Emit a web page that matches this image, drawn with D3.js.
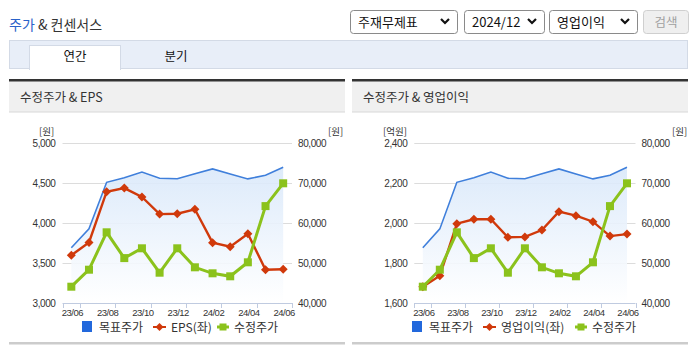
<!DOCTYPE html>
<html><head><meta charset="utf-8">
<script src="https://cdn.jsdelivr.net/npm/d3@7"></script>
<style>
body{margin:0;background:#fff;}
svg{display:block;font-family:"Noto Sans CJK KR","Noto Sans",sans-serif;}
.tick text{font-family:"Liberation Sans",Arial,sans-serif;font-size:10px;fill:#333;letter-spacing:-0.4px;}
</style></head><body>
<svg id="c" width="695" height="349"></svg>
<script>
const months = ["23/06","23/07","23/08","23/09","23/10","23/11","23/12","24/01","24/02","24/03","24/04","24/05","24/06"];
const targetPrice = [53900,58600,70250,71400,72800,71250,71150,72400,73600,72300,71100,72000,74000];
const adjPrice = [44150,48400,57750,51300,53750,47650,53750,49000,47500,46750,50250,64300,70000];
const eps = [3600,3760,4395,4440,4330,4115,4120,4175,3758,3708,3870,3420,3425];
const opIncome = [1683,1738,1998,2020,2020,1930,1932,1966,2058,2038,2008,1936,1946];
const epsTicks = [3000,3500,4000,4500,5000];
const opTicks = [1600,1800,2000,2200,2400];
const priceTicks = [40000,50000,60000,70000,80000];
const selects = ["주재무제표","2024/12","영업이익"];
const tabs = ["연간","분기"];

const BLUE="#3f7fdb", RED="#d0390b", GREEN="#8bc21c";
const svg = d3.select("#c");

const defs = svg.append("defs");
const gr = defs.append("linearGradient").attr("id","ag").attr("x1",0).attr("y1",0).attr("x2",0).attr("y2",1);
gr.append("stop").attr("offset","0%").attr("stop-color","#d9e8fa").attr("stop-opacity",0.9);
gr.append("stop").attr("offset","100%").attr("stop-color","#ffffff").attr("stop-opacity",0.9);

const t = svg.append("text").attr("x",9).attr("y",30).attr("font-size",14);
t.append("tspan").attr("fill","#2a62c9").text("주가");
t.append("tspan").attr("fill","#333").text(" & 컨센서스");

const selBoxes = [[350,107],[464,80],[549,88]];
selects.forEach((s,i)=>{
  const [x,w]=selBoxes[i];
  svg.append("rect").attr("x",x+0.5).attr("y",10.5).attr("width",w).attr("height",23).attr("rx",3)
    .attr("fill","#fff").attr("stroke","#8a8a8a");
  svg.append("text").attr("x",x+8).attr("y",27).attr("font-size",13).attr("fill","#111").text(s);
  const cx=x+w-12;
  svg.append("path").attr("d",`M${cx-4},${19}L${cx},${23}L${cx+4},${19}`).attr("fill","none")
    .attr("stroke","#111").attr("stroke-width",2.2);
});
svg.append("rect").attr("x",643.5).attr("y",10.5).attr("width",45).attr("height",23).attr("rx",3)
  .attr("fill","#efefef").attr("stroke","#cfcfcf");
svg.append("text").attr("x",666).attr("y",27).attr("text-anchor","middle").attr("font-size",12.5).attr("fill","#a0a0a0").text("검색");

svg.append("rect").attr("x",9.5).attr("y",40.5).attr("width",678).attr("height",28).attr("fill","#e8eef8").attr("stroke","#d3dae6");
svg.append("rect").attr("x",29.5).attr("y",45.5).attr("width",91).attr("height",24).attr("fill","#fff").attr("stroke","#d3dae6");
svg.append("rect").attr("x",30).attr("y",68).attr("width",90).attr("height",2).attr("fill","#fff");
svg.append("text").attr("x",75).attr("y",61).attr("text-anchor","middle").attr("font-size",12.5).attr("fill","#111").text(tabs[0]);
svg.append("text").attr("x",176).attr("y",61).attr("text-anchor","middle").attr("font-size",12.5).attr("fill","#111").text(tabs[1]);

function panel(px, pw, title){
  svg.append("rect").attr("x",px).attr("y",81).attr("width",pw).attr("height",31).attr("fill","#f0f0f0");
  svg.append("rect").attr("x",px).attr("y",79).attr("width",pw).attr("height",2.5).attr("fill","#333");
  svg.append("rect").attr("x",px).attr("y",111.5).attr("width",pw).attr("height",1).attr("fill","#d8d8d8");
  svg.append("text").attr("x",px+11).attr("y",102).attr("font-size",12.5).attr("fill","#333").text(title);
  svg.append("rect").attr("x",px).attr("y",342).attr("width",pw).attr("height",2.5).attr("fill","#cccccc");
}
panel(9,336,"수정주가 & EPS");
panel(352,336,"수정주가 & 영업이익");

function chart(cfg){
  const g = svg.append("g");
  const x = d3.scaleBand().domain(months).range([cfg.x0,cfg.x1]).padding(0);
  const yL = d3.scaleLinear().domain([cfg.lt[0],cfg.lt[cfg.lt.length-1]]).range([303.3,143.3]);
  const yR = d3.scaleLinear().domain([40000,80000]).range([303.3,143.3]);
  const cx = d=>x(d)+x.bandwidth()/2;
  g.selectAll(".gl").data(cfg.lt.slice(1)).join("line")
    .attr("x1",cfg.x0).attr("x2",cfg.x1).attr("y1",d=>Math.round(yL(d))+0.5).attr("y2",d=>Math.round(yL(d))+0.5)
    .attr("stroke","#dcdcdc").attr("stroke-width",1);
  const area = d3.area().x((d,i)=>cx(months[i])).y0(303).y1(d=>yR(d));
  g.append("path").datum(targetPrice).attr("d",area).attr("fill","url(#ag)");
  g.append("path").datum(targetPrice).attr("d",d3.line().x((d,i)=>cx(months[i])).y(d=>yR(d)))
    .attr("fill","none").attr("stroke",BLUE).attr("stroke-width",1.6);
  const ld = cfg.left;
  g.append("path").datum(ld).attr("d",d3.line().x((d,i)=>cx(months[i])).y(d=>yL(d)))
    .attr("fill","none").attr("stroke",RED).attr("stroke-width",2.4);
  g.selectAll(".dm").data(ld).join("path")
    .attr("d",(d,i)=>{const X=cx(months[i]),Y=yL(d);return `M${X},${Y-4.5}L${X+4.5},${Y}L${X},${Y+4.5}L${X-4.5},${Y}Z`;})
    .attr("fill",RED);
  g.append("path").datum(adjPrice).attr("d",d3.line().x((d,i)=>cx(months[i])).y(d=>yR(d)))
    .attr("fill","none").attr("stroke",GREEN).attr("stroke-width",3);
  g.selectAll(".sq").data(adjPrice).join("rect")
    .attr("x",(d,i)=>cx(months[i])-4).attr("y",d=>yR(d)-4).attr("width",8).attr("height",8).attr("fill",GREEN);
  const ax = g.append("g").attr("transform",`translate(${cfg.x0-3},0)`)
    .call(d3.axisLeft(yL).tickValues(cfg.lt).tickFormat(d3.format(",")).tickSize(0).tickPadding(4));
  ax.select(".domain").remove();
  const ar = g.append("g").attr("transform",`translate(${cfg.x1+2},0)`)
    .call(d3.axisRight(yR).tickValues(priceTicks).tickFormat(d3.format(",")).tickSize(0).tickPadding(4));
  ar.select(".domain").remove();
  g.append("line").attr("x1",cfg.x0).attr("x2",cfg.x1).attr("y1",303.5).attr("y2",303.5).attr("stroke","#c0cbe0");
  const bw = x.bandwidth();
  const tickX = [cfg.x0];
  for(let k=0;k<6;k++) tickX.push(cfg.x0+bw*(2*k+1));
  tickX.push(cfg.x1);
  g.selectAll(".xt").data(tickX).join("line").attr("x1",d=>Math.round(d)+0.5).attr("x2",d=>Math.round(d)+0.5)
    .attr("y1",303).attr("y2",308).attr("stroke","#c0cbe0");
  g.selectAll(".xl").data(months.filter((m,i)=>i%2===0)).join("text")
    .attr("x",d=>cx(d)+1).attr("y",316).attr("text-anchor","middle")
    .attr("font-family","Liberation Sans,Arial,sans-serif").attr("font-size",9.5).attr("letter-spacing","-0.5px")
    .attr("fill","#333").text(d=>d);
  g.append("text").attr("x",cfg.unitL[0]).attr("y",135).attr("font-size",9.5).attr("fill","#333").text(cfg.unitL[1]);
  g.append("text").attr("x",cfg.unitR).attr("y",135).attr("font-size",9.5).attr("fill","#333").text("[원]");
  const L = cfg.leg;
  g.append("rect").attr("x",L[0]).attr("y",321).attr("width",10).attr("height",11).attr("fill","#2268dc");
  g.append("text").attr("x",L[0]+17).attr("y",332).attr("font-size",12).attr("fill","#333").text("목표주가");
  g.append("line").attr("x1",L[1]).attr("x2",L[1]+13).attr("y1",327).attr("y2",327).attr("stroke",RED).attr("stroke-width",2);
  g.append("path").attr("d",`M${L[1]+6.5},${323}L${L[1]+10.5},${327}L${L[1]+6.5},${331}L${L[1]+2.5},${327}Z`).attr("fill",RED);
  g.append("text").attr("x",L[1]+18).attr("y",332).attr("font-size",12).attr("fill","#333").text(cfg.legName);
  g.append("line").attr("x1",L[2]).attr("x2",L[2]+12).attr("y1",327).attr("y2",327).attr("stroke",GREEN).attr("stroke-width",3);
  g.append("rect").attr("x",L[2]+2.5).attr("y",323.5).attr("width",7).attr("height",7).attr("fill",GREEN);
  g.append("text").attr("x",L[2]+17).attr("y",332).attr("font-size",12).attr("fill","#333").text("수정주가");
}
chart({x0:62.5,x1:292,lt:epsTicks,left:eps,unitL:[39,"[원]"],unitR:328,leg:[82,153,217],legName:"EPS(좌)"});
chart({x0:414.3,x1:635.5,lt:opTicks,left:opIncome,unitL:[383,"[억원]"],unitR:672,leg:[412,483,575],legName:"영업이익(좌)"});
</script></body></html>
